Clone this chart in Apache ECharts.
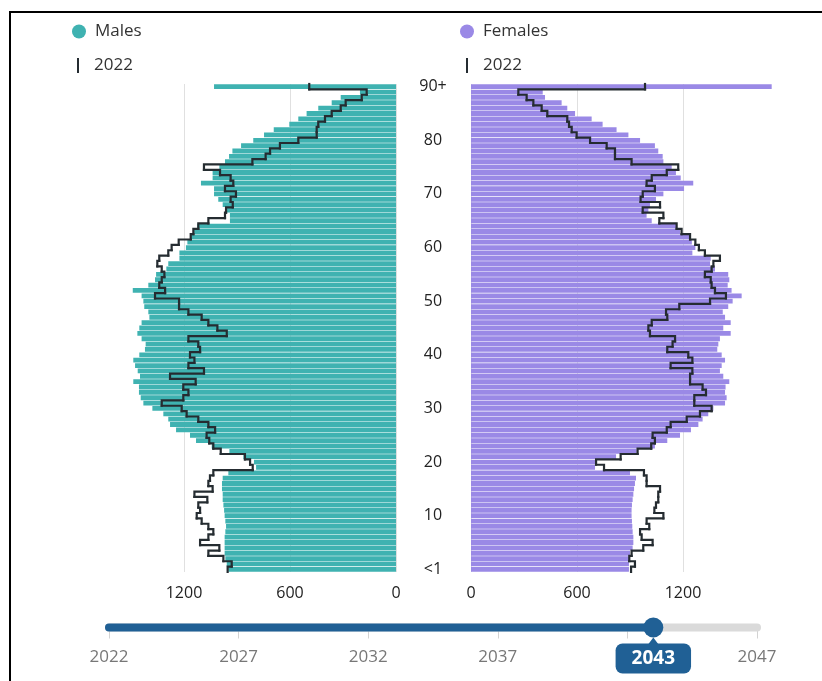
<!DOCTYPE html>
<html>
<head>
<meta charset="utf-8">
<script src="https://cdn.jsdelivr.net/npm/echarts@6.0.0/dist/echarts.min.js"></script>
<style>
  html, body { margin: 0; padding: 0; background: #fff; }
  #chart { width: 822px; height: 681px; }
</style>
</head>
<body>
<div id="chart"></div>
<script>
// age bands, bottom (<1) to top (90+)
const ages = ["<1"];
for (let a = 1; a < 90; a++) ages.push(String(a));
ages.push("90+");

// projected population, 2043
const malesNow = [
  949, 958, 966, 970, 970, 970, 970, 966, 962, 966,
  970, 973, 977, 981, 981, 985, 985, 981, 949, 792,
  804, 864, 943, 1043, 1132, 1166, 1245, 1279, 1289, 1317,
  1379, 1430, 1445, 1455, 1455, 1487, 1449, 1462, 1477, 1487,
  1453, 1421, 1417, 1440, 1464, 1453, 1440, 1396, 1402, 1425,
  1430, 1440, 1490, 1402, 1364, 1358, 1300, 1289, 1226, 1226,
  1189, 1181, 1162, 1143, 1125, 940, 940, 962, 981, 1006,
  1030, 1030, 1104, 1038, 1038, 1000, 968, 945, 926, 877,
  808, 747, 692, 604, 553, 506, 440, 364, 313, 204,
  1030
];
const femalesNow = [
  894, 894, 896, 900, 915, 919, 919, 915, 913, 911,
  909, 909, 911, 915, 919, 923, 928, 934, 900, 702,
  708, 821, 938, 1041, 1111, 1183, 1245, 1287, 1311, 1343,
  1372, 1438, 1447, 1438, 1441, 1462, 1428, 1409, 1419, 1438,
  1419, 1394, 1400, 1409, 1470, 1428, 1470, 1438, 1425, 1456,
  1481, 1532, 1475, 1453, 1462, 1456, 1381, 1353, 1357, 1253,
  1270, 1250, 1240, 1183, 1164, 1023, 994, 1004, 1013, 1047,
  1089, 1206, 1258, 1187, 1160, 1136, 1089, 1085, 1060, 1041,
  957, 891, 824, 745, 683, 589, 545, 513, 419, 406,
  1702
];

// 2022 outline
const males2022 = [
  953, 930, 977, 1062, 1000, 1109, 1062, 1034, 1062, 1100,
  1128, 1109, 1119, 1068, 1141, 1038, 1062, 1053, 1034, 811,
  826, 855, 992, 1034, 1057, 1072, 1024, 1062, 1119, 1185,
  1213, 1326, 1204, 1175, 1204, 1134, 1279, 1087, 1175, 1141,
  1166, 1109, 1119, 1175, 958, 1011, 1062, 1100, 1175, 1228,
  1228, 1364, 1307, 1340, 1326, 1311, 1326, 1351, 1340, 1289,
  1270, 1230, 1162, 1147, 1119, 1062, 968, 962, 924, 936,
  906, 968, 921, 936, 996, 1087, 813, 738, 713, 657,
  553, 449, 449, 440, 402, 364, 313, 285, 194, 166,
  491
];
const females2022 = [
  906, 928, 896, 909, 975, 1028, 966, 957, 1009, 994,
  1089, 1038, 1047, 1060, 1060, 1070, 994, 994, 979, 753,
  708, 847, 943, 1020, 1041, 1028, 1108, 1130, 1221, 1296,
  1362, 1264, 1264, 1330, 1311, 1240, 1240, 1253, 1130, 1253,
  1230, 1111, 1141, 1155, 1013, 1004, 1023, 1111, 1104, 1179,
  1353, 1443, 1381, 1362, 1357, 1324, 1362, 1372, 1409, 1324,
  1290, 1270, 1240, 1192, 1164, 1066, 1089, 972, 1070, 960,
  972, 1041, 994, 1023, 1108, 1173, 909, 815, 815, 768,
  674, 598, 570, 555, 545, 432, 400, 353, 315, 268,
  985
];

const xTicks = [0, 600, 1200];
const years = [
  "2022", "2023", "2024", "2025", "2026", "2027", "2028", "2029", "2030",
  "2031", "2032", "2033", "2034", "2035", "2036", "2037", "2038", "2039",
  "2040", "2041", "2042", "2043", "2044", "2045", "2046", "2047"
];
const currentYear = "2043";

const teal = "#3fb2b1";
const purple = "#9a89e6";
const outlineColor = "#252c31";
const sliderBlue = "#206095";
const font = "Open Sans";

// draws one age band of the 2022 outline plus the step to the next band
function outline(values) {
  return function (params, api) {
    const i = api.value(1);
    const p = api.coord([api.value(0), i]);
    const h = api.size([0, 1])[1];
    const top = p[1] - h / 2;
    const pts = [[p[0], p[1] + h / 2], [p[0], top]];
    if (i + 1 < values.length) pts.push([api.coord([values[i + 1], i + 1])[0], top]);
    return {
      type: "polyline",
      shape: { points: pts },
      style: { stroke: outlineColor, lineWidth: 2.2, fill: null, lineCap: "square" }
    };
  };
}

function valueAxis(grid, inverse) {
  return {
    type: "value", gridIndex: grid, inverse: inverse, min: 0, max: 1800, interval: 600,
    axisLine: { show: false }, axisTick: { show: false },
    axisLabel: {
      margin: 13, fontFamily: font, fontSize: 16, color: "#222",
      formatter: (v) => (xTicks.includes(v) ? String(v) : "")
    },
    splitLine: { showMaxLine: false, lineStyle: { color: "#e0e0e0" } }
  };
}

const legendText = { fontFamily: font, fontSize: 17, color: "#333" };

const chart = echarts.init(document.getElementById("chart"));
chart.setOption({
  animation: false,
  backgroundColor: "#fff",
  graphic: [{
    type: "rect", shape: { x: 10, y: 12, width: 900, height: 800 },
    style: { fill: null, stroke: "#000", lineWidth: 2 }, silent: true
  }],
  legend: [
    { left: 72, top: 23, padding: 0, itemWidth: 14, itemHeight: 14,
      data: [{ name: "Males", icon: "circle" }], textStyle: Object.assign({ padding: [0, 0, 0, 4] }, legendText) },
    { left: 460, top: 23, padding: 0, itemWidth: 14, itemHeight: 14,
      data: [{ name: "Females", icon: "circle" }], textStyle: Object.assign({ padding: [0, 0, 0, 4] }, legendText) },
    { left: 77, top: 57, padding: 0, itemWidth: 2, itemHeight: 15,
      data: [{ name: "2022", icon: "rect", itemStyle: { color: outlineColor } }],
      textStyle: Object.assign({ padding: [0, 0, 0, 10] }, legendText) },
    { left: 466, top: 57, padding: 0, itemWidth: 2, itemHeight: 15,
      data: [{ name: "2022", icon: "rect", itemStyle: { color: outlineColor } }],
      textStyle: Object.assign({ padding: [0, 0, 0, 10] }, legendText) }
  ],
  grid: [
    { left: 78, right: 426, top: 84, bottom: 109 },
    { left: 471, right: 33, top: 84, bottom: 109 },
    { left: 109, right: 65, top: 624, height: 7 }
  ],
  xAxis: [
    valueAxis(0, true),
    valueAxis(1, false),
    {
      type: "category", gridIndex: 2, data: years, boundaryGap: false,
      axisLine: { show: false },
      axisTick: { interval: 4, length: 11, lineStyle: { color: "#d3d3d3" } },
      axisLabel: {
        interval: 4, margin: 18, fontFamily: font, fontSize: 17, color: "#777",
        formatter: (v) => (v === "2042" ? "" : v)
      },
      splitLine: { show: false }
    }
  ],
  yAxis: [
    { type: "category", gridIndex: 0, data: ages, position: "right",
      axisLine: { show: false }, axisTick: { show: false }, axisLabel: { show: false } },
    { type: "category", gridIndex: 1, data: ages, position: "left",
      axisLine: { show: false }, axisTick: { show: false },
      axisLabel: { interval: 9, align: "center", margin: 38, fontFamily: font, fontSize: 16, color: "#222" } },
    { type: "value", gridIndex: 2, min: -1, max: 1, show: false }
  ],
  series: [
    { name: "Males", type: "bar", xAxisIndex: 0, yAxisIndex: 0, data: malesNow,
      barCategoryGap: "10%", itemStyle: { color: teal } },
    { name: "Females", type: "bar", xAxisIndex: 1, yAxisIndex: 1, data: femalesNow,
      barCategoryGap: "10%", itemStyle: { color: purple } },
    { name: "2022", type: "custom", xAxisIndex: 0, yAxisIndex: 0, z: 5,
      itemStyle: { color: outlineColor }, encode: { x: 0, y: 1 },
      renderItem: outline(males2022), data: males2022.map((v, i) => [v, i]) },
    { name: "2022", type: "custom", xAxisIndex: 1, yAxisIndex: 1, z: 5,
      itemStyle: { color: outlineColor }, encode: { x: 0, y: 1 },
      renderItem: outline(females2022), data: females2022.map((v, i) => [v, i]) },
    // year slider
    { type: "line", xAxisIndex: 2, yAxisIndex: 2, silent: true, symbol: "none", z: 1,
      data: [[years[0], 0], [years[years.length - 1], 0]],
      lineStyle: { color: "#dadada", width: 8, cap: "round" } },
    { type: "line", xAxisIndex: 2, yAxisIndex: 2, silent: true, symbol: "none", z: 2,
      data: [[years[0], 0], [currentYear, 0]],
      lineStyle: { color: sliderBlue, width: 8, cap: "round" } },
    { type: "scatter", xAxisIndex: 2, yAxisIndex: 2, silent: true, z: 3,
      symbol: "triangle", symbolSize: [12, 8], symbolOffset: [0, 14],
      itemStyle: { color: sliderBlue, opacity: 1 }, data: [[currentYear, 0]] },
    { type: "scatter", xAxisIndex: 2, yAxisIndex: 2, silent: true, z: 4,
      symbolSize: 20, itemStyle: { color: sliderBlue, opacity: 1 }, data: [[currentYear, 0]],
      label: {
        show: true, position: "bottom", distance: 6,
        formatter: (p) => p.value[0],
        backgroundColor: sliderBlue, color: "#fff", fontFamily: font, fontWeight: "bold",
        fontSize: 19, lineHeight: 22, padding: [4, 16], borderRadius: 7
      } }
  ]
});
</script>
</body>
</html>
